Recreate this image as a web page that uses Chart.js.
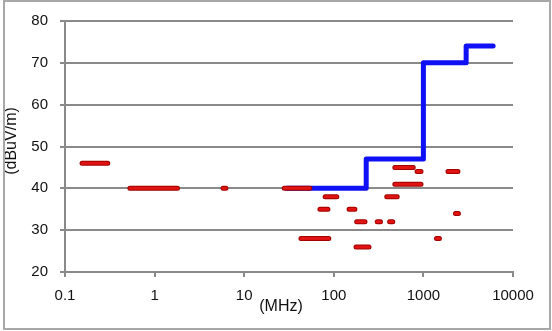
<!DOCTYPE html>
<html>
<head>
<meta charset="utf-8">
<script src="https://cdn.jsdelivr.net/npm/chart.js@4"></script>
<style>
  body { margin: 0; background: #fff; }
  #wrap { position: relative; width: 552px; height: 331px; }
  #frame {
    position: absolute; left: 3px; top: 0; width: 548px; height: 330px;
    box-sizing: border-box; border: 2px solid #a8a8a8; pointer-events: none;
  }
</style>
</head>
<body>
<div id="wrap">
  <canvas id="emi"></canvas>
  <div id="frame"></div>
</div>
<script>
// limit line (MHz / dBuV/m), drawn as steps
const limitFreq = [30, 230, 1000, 3000, 6000];
const limitLevel = [40, 47, 70, 74, 74];

// measured emissions: each one is a short horizontal span
const emStart = [0.155, 0.53, 5.8, 28, 480, 850, 1880, 480, 80, 390, 70, 148, 180, 305, 420, 2280, 43, 1400, 177];
const emEnd   = [0.30, 1.8, 6.25, 54, 770, 940, 2430, 940, 108, 510, 86, 172, 223, 332, 455, 2460, 88, 1510, 247];
const emLevel = [46, 40, 40, 40, 45, 44, 44, 41, 38, 38, 35, 35, 32, 32, 32, 34, 28, 28, 26];

const xTicks = [0.1, 1, 10, 100, 1000, 10000];
const yMin = 20, yMax = 80, yStep = 10;

const gridGrey = '#8a8a8a';
const font = { family: '"Liberation Sans", Arial, sans-serif', size: 15 };

// segments joined into one dataset, broken with null
const emPoints = [];
emStart.forEach((s, i) => {
    emPoints.push({ x: s, y: emLevel[i] });
    emPoints.push({ x: emEnd[i], y: emLevel[i] });
    emPoints.push({ x: emEnd[i], y: null });
});

const limitPoints = limitFreq.map((f, i) => ({ x: f, y: limitLevel[i] }));

// axis titles at their spots in the picture
const axisTitles = {
    id: 'axisTitles',
    afterDraw(chart) {
        const ctx = chart.ctx;
        ctx.save();
        ctx.fillStyle = '#111';
        ctx.font = '16px "Liberation Sans", Arial, sans-serif';
        ctx.textAlign = 'center';
        ctx.textBaseline = 'middle';
        ctx.fillText('(MHz)', 281, 307);
        ctx.translate(12, 141);
        ctx.rotate(-Math.PI / 2);
        ctx.fillText('(dBuV/m)', 0, 0);
        ctx.restore();
    }
};

new Chart(document.getElementById('emi').getContext('2d'), {
    type: 'line',
    data: {
        datasets: [
            {
                data: emPoints,
                borderColor: '#a00000',
                borderWidth: 5,
                borderCapStyle: 'round',
                spanGaps: false,
                pointRadius: 0,
                order: 1
            },
            {
                data: emPoints,
                borderColor: '#e01212',
                borderWidth: 3,
                borderCapStyle: 'round',
                spanGaps: false,
                pointRadius: 0,
                order: 0
            },
            {
                data: limitPoints,
                borderColor: '#1010f5',
                borderWidth: 5,
                borderCapStyle: 'round',
                borderJoinStyle: 'round',
                stepped: 'before',
                pointRadius: 0,
                order: 2
            }
        ]
    },
    options: {
        responsive: true,
        maintainAspectRatio: false,
        animation: false,
        layout: { padding: { left: 0, top: 16, right: 39, bottom: 0 } },
        plugins: { legend: { display: false }, tooltip: { enabled: false } },
        scales: {
            x: {
                type: 'logarithmic',
                min: 0.1,
                max: 10000,
                afterBuildTicks: scale => { scale.ticks = xTicks.map(v => ({ value: v })); },
                afterFit: scale => { scale.height = 59; },
                ticks: {
                    color: '#111',
                    font: font,
                    padding: 10,
                    maxRotation: 0,
                    autoSkip: false,
                    callback: v => String(v)
                },
                grid: { drawOnChartArea: false, color: gridGrey, lineWidth: 2, tickLength: 5 },
                border: { color: gridGrey, width: 2 }
            },
            y: {
                min: yMin,
                max: yMax,
                afterFit: scale => { scale.width = 65; },
                ticks: { stepSize: yStep, color: '#111', font: font, padding: 12 },
                grid: { color: gridGrey, lineWidth: 2, tickLength: 5 },
                border: { color: gridGrey, width: 2 }
            }
        }
    },
    plugins: [axisTitles]
});
</script>
</body>
</html>
